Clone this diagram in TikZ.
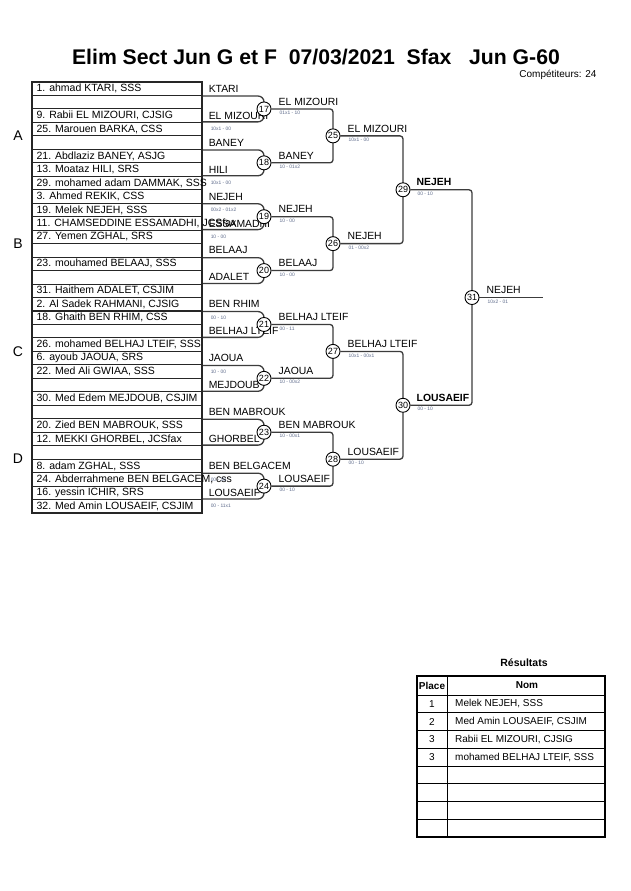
\documentclass[tikz,border=0pt]{standalone}
\usepackage{fontspec}
\setmainfont{Liberation Sans}
\usetikzlibrary{positioning, backgrounds}
\definecolor{scoregray}{RGB}{95,108,140}
\definecolor{linegray}{RGB}{60,60,60}
\tikzstyle{rowbox} = [rectangle, draw=black!85, line width=1.1pt, minimum width=170pt, minimum height=13.47pt, inner sep=0pt]
\tikzstyle{rowtext} = [anchor=west, inner sep=0pt, font=\fontsize{10.5}{12}\selectfont]
\tikzstyle{winner} = [anchor=west, inner sep=0pt, font=\fontsize{10.4}{12}\selectfont]
\tikzstyle{winnerbold} = [winner, font=\fontsize{10.4}{12}\selectfont\bfseries]
\tikzstyle{score} = [anchor=west, inner sep=0pt, text=scoregray, font=\fontsize{4.9}{5}\selectfont]
\tikzstyle{match} = [circle, draw=black, line width=0.9pt, fill=white, minimum size=14pt, inner sep=0pt, font=\fontsize{9}{10}\selectfont]
\tikzstyle{bracket} = [draw=linegray, line width=1.3pt]
\tikzstyle{cell} = [inner sep=0pt, font=\fontsize{10}{12}\selectfont]
\newcommand{\rowh}{13.47}
\newcommand{\gridtop}{82}

\begin{document}
\begin{tikzpicture}[x=1pt, y=-1pt]
\useasboundingbox (0,0) rectangle (630,891);

\node (title) at (316,57) {\fontsize{21.2}{24}\selectfont\bfseries Elim Sect Jun G et F~~07/03/2021~~Sfax~~~Jun G-60};
\node[anchor=east, font=\fontsize{10}{11}\selectfont] (count) at (600,75) {Compétiteurs: 24};

\foreach \txt [count=\i from 0] in {{1. ahmad KTARI, SSS}, {}, {9. Rabii EL MIZOURI, CJSIG}, {25. Marouen BARKA, CSS},
  {}, {21. Abdlaziz BANEY, ASJG}, {13. Moataz HILI, SRS}, {29. mohamed adam DAMMAK, SSS},
  {3. Ahmed REKIK, CSS}, {19. Melek NEJEH, SSS}, {11. CHAMSEDDINE ESSAMADHI, JCSfax}, {27. Yemen ZGHAL, SRS},
  {}, {23. mouhamed BELAAJ, SSS}, {}, {31. Haithem ADALET, CSJIM},
  {2. Al Sadek RAHMANI, CJSIG}, {18. Ghaith BEN RHIM, CSS}, {}, {26. mohamed BELHAJ LTEIF, SSS},
  {6. ayoub JAOUA, SRS}, {22. Med Ali GWIAA, SSS}, {}, {30. Med Edem MEJDOUB, CSJIM},
  {}, {20. Zied BEN MABROUK, SSS}, {12. MEKKI GHORBEL, JCSfax}, {},
  {8. adam ZGHAL, SSS}, {24. Abderrahmene BEN BELGACEM, css}, {16. yessin ICHIR, SRS}, {32. Med Amin LOUSAEIF, CSJIM}} {
  \node[rowbox] (r\i) at (117, {\gridtop+\rowh*(\i+0.5)}) {};
  \node[rowtext, right=5pt of r\i.west] (t\i) {\txt};
}

\foreach \r/\nm in {0/KTARI, 2/EL MIZOURI, 4/BANEY, 6/HILI, 8/NEJEH, 10/ESSAMADHI, 12/BELAAJ, 14/ADALET,
  16/BEN RHIM, 18/BELHAJ LTEIF, 20/JAOUA, 22/MEJDOUB, 24/BEN MABROUK, 26/GHORBEL, 28/BEN BELGACEM, 30/LOUSAEIF}
  \node[winner, right=6pt of r\r.east] (w\r) {\nm};

\foreach \r/\sc in {3/10x1 - 00, 7/10x1 - 00, 9/00x2 - 01x2, 11/10 - 00, 17/00 - 10, 21/10 - 00, 29/00 - 10, 31/00 - 11x1}
  \node[score, right=8pt of r\r.east] (q\r) {\sc};

\foreach \lab/\b in {A/4, B/12, C/20, D/28}
  \node[font=\fontsize{14}{16}\selectfont] (sec\lab) at (18, {\gridtop+\rowh*\b}) {\lab};

\foreach \m/\x/\b in {17/264/2, 18/264/6, 19/264/10, 20/264/14, 21/264/18, 22/264/22, 23/264/26, 24/264/30,
  25/333/4, 26/333/12, 27/333/20, 28/333/28, 29/403/8, 30/403/24, 31/472/16}
  \node[match] (m\m) at (\x, {\gridtop+\rowh*\b}) {\m};
\coordinate (final) at (543, {\gridtop+\rowh*16});

\begin{scope}[on background layer]
\fill[white] (0,0) rectangle (630,891);
\foreach \m/\a/\c in {17/0/3, 18/4/7, 19/8/11, 20/12/15, 21/16/19, 22/20/23, 23/24/27, 24/28/31}
  \draw[bracket, rounded corners=6pt] (r\a.south east) -| (m\m.center) |- (r\c.north east);
\foreach \m/\a/\c in {25/17/18, 26/19/20, 27/21/22, 28/23/24, 29/25/26, 30/27/28, 31/29/30}
  \draw[bracket, rounded corners=3pt] (m\a) -| (m\m.center) |- (m\c);
\draw[bracket] (m31) -- (final);
\end{scope}

\foreach \m/\nm/\sc in {17/EL MIZOURI/01x1 - 10, 18/BANEY/10 - 01x2, 19/NEJEH/10 - 00, 20/BELAAJ/10 - 00,
  21/BELHAJ LTEIF/00 - 11, 22/JAOUA/10 - 00x2, 23/BEN MABROUK/10 - 00x1, 24/LOUSAEIF/00 - 10,
  25/EL MIZOURI/10x1 - 00, 26/NEJEH/01 - 00x2, 27/BELHAJ LTEIF/10x1 - 00x1, 28/LOUSAEIF/00 - 10, 31/NEJEH/10x2 - 01} {
  \node[winner, above right=3.5pt and 7pt of m\m.east] (n\m) {\nm};
  \node[score, below right=2pt and 8pt of m\m.east] (s\m) {\sc};
}
\foreach \m/\nm in {29/NEJEH, 30/LOUSAEIF} {
  \node[winnerbold, above right=3.5pt and 6pt of m\m.east] (n\m) {\nm};
  \node[score, below right=2pt and 7pt of m\m.east] (s\m) {00 - 10};
}

\node[font=\fontsize{10.5}{12}\selectfont\bfseries] (restitle) at (524,663) {Résultats};
\draw[line width=1.5pt] (417,676) rectangle (605,837);
\draw[line width=1pt] (447,676) -- (447,837);
\foreach \k in {0,...,7}
  \draw[line width=1pt] (417, {695+17.75*\k}) -- (605, {695+17.75*\k});
\node[cell, font=\fontsize{10}{12}\selectfont\bfseries] (hplace) at (432,685.5) {Place};
\node[cell, font=\fontsize{10}{12}\selectfont\bfseries] (hnom) at (527,685.5) {Nom};
\foreach \pl/\nm [count=\k from 0] in {{1/Melek NEJEH, SSS}, {2/Med Amin LOUSAEIF, CSJIM}, {3/Rabii EL MIZOURI, CJSIG}, {3/mohamed BELHAJ LTEIF, SSS}} {
  \node[cell] (pl\k) at (432, {695+17.75*(\k+0.5)}) {\pl};
  \node[cell, anchor=west] (nm\k) at (455, {695+17.75*(\k+0.5)}) {\nm};
}
\end{tikzpicture}
\end{document}
